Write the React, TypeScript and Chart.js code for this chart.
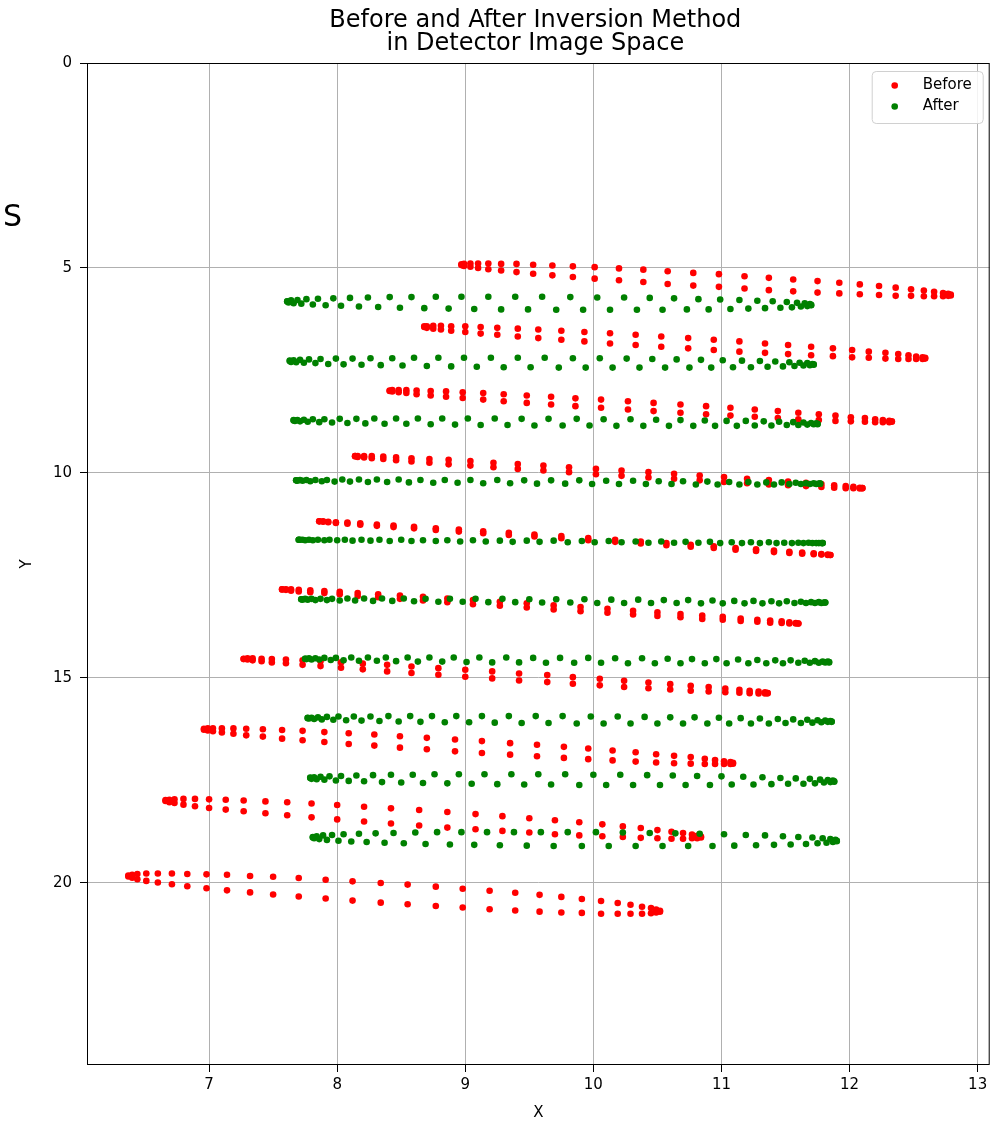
import { useEffect, useRef } from "react";
import { Chart, registerables } from "chart.js";

Chart.register(...registerables);

// ---------- axes ----------
const xTicks = [7, 8, 9, 10, 11, 12, 13];
const yTicks = [0, 5, 10, 15, 20];
const xMin = 6.047;
const xMax = 13.094;
const yMin = 0;
const yMax = 24.44;
const titleLines = ["Before and After Inversion Method", "in Detector Image Space"];
const xLabel = "X";
const yLabel = "Y";
const cornerText = "S";
const seriesNames = ["Before", "After"];
const seriesColors = ["#ff0000", "#008000"];

// ---------- Before (red) rings: x shared by upper and lower sub-rows ----------
const before1X = [12.79,12.77,12.73,12.66,12.58,12.48,12.36,12.23,12.08,11.92,11.75,11.56,11.37,11.18,10.98,10.78,10.58,10.39,10.20,10.01,9.84,9.68,9.53,9.40,9.28,9.18,9.10,9.04,8.99,8.97];
const before1YTop = [5.65,5.63,5.61,5.58,5.55,5.52,5.48,5.44,5.40,5.36,5.32,5.28,5.24,5.20,5.15,5.12,5.08,5.04,5.01,4.98,4.96,4.94,4.92,4.90,4.90,4.89,4.89,4.89,4.90,4.91];
const before1YBottom = [5.67,5.68,5.69,5.69,5.69,5.68,5.68,5.66,5.64,5.62,5.60,5.57,5.54,5.50,5.46,5.43,5.39,5.34,5.30,5.26,5.22,5.18,5.14,5.10,5.06,5.03,5.00,4.97,4.95,4.93];

const before2X = [12.59,12.57,12.52,12.46,12.38,12.28,12.15,12.02,11.87,11.70,11.52,11.34,11.14,10.94,10.74,10.53,10.33,10.13,9.93,9.75,9.57,9.41,9.25,9.12,9.00,8.89,8.81,8.75,8.70,8.68];
const before2YTop = [7.19,7.18,7.16,7.13,7.10,7.07,7.04,7.00,6.96,6.92,6.88,6.84,6.79,6.75,6.71,6.67,6.63,6.59,6.56,6.53,6.50,6.48,6.46,6.44,6.42,6.42,6.41,6.41,6.42,6.42];
const before2YBottom = [7.21,7.22,7.22,7.22,7.22,7.21,7.19,7.18,7.15,7.13,7.10,7.07,7.04,7.00,6.96,6.92,6.88,6.84,6.79,6.75,6.71,6.67,6.63,6.60,6.56,6.53,6.50,6.48,6.46,6.44];

const before3X = [12.33,12.31,12.26,12.20,12.12,12.01,11.89,11.76,11.60,11.44,11.26,11.07,10.88,10.68,10.47,10.27,10.06,9.86,9.67,9.48,9.30,9.14,8.98,8.85,8.73,8.62,8.54,8.48,8.43,8.41];
const before3YTop = [8.74,8.73,8.71,8.69,8.66,8.64,8.60,8.57,8.53,8.49,8.45,8.41,8.37,8.33,8.29,8.25,8.21,8.18,8.14,8.11,8.08,8.05,8.03,8.01,8.00,7.99,7.98,7.98,7.98,7.99];
const before3YBottom = [8.75,8.76,8.76,8.76,8.75,8.74,8.73,8.71,8.69,8.66,8.63,8.60,8.57,8.53,8.49,8.45,8.41,8.37,8.33,8.29,8.25,8.21,8.17,8.14,8.11,8.08,8.05,8.03,8.01,8.00];

const before4X = [12.10,12.08,12.03,11.97,11.88,11.78,11.66,11.52,11.37,11.20,11.02,10.83,10.63,10.43,10.22,10.02,9.81,9.61,9.41,9.22,9.04,8.87,8.72,8.58,8.46,8.36,8.27,8.21,8.16,8.14];
const before4YTop = [10.37,10.36,10.34,10.32,10.30,10.27,10.24,10.21,10.17,10.14,10.10,10.06,10.02,9.98,9.94,9.90,9.86,9.82,9.78,9.75,9.71,9.68,9.66,9.64,9.62,9.60,9.59,9.59,9.59,9.59];
const before4YBottom = [10.37,10.38,10.37,10.37,10.36,10.34,10.32,10.30,10.28,10.25,10.22,10.18,10.14,10.11,10.07,10.03,9.98,9.94,9.90,9.86,9.82,9.79,9.75,9.72,9.69,9.66,9.64,9.62,9.61,9.59];

const before5X = [11.85,11.83,11.78,11.72,11.63,11.53,11.41,11.27,11.11,10.94,10.76,10.57,10.37,10.17,9.96,9.75,9.54,9.34,9.14,8.95,8.77,8.60,8.44,8.31,8.18,8.08,7.99,7.93,7.89,7.86];
const before5YTop = [12.00,11.99,11.98,11.96,11.94,11.92,11.89,11.86,11.83,11.79,11.75,11.71,11.67,11.63,11.59,11.54,11.50,11.46,11.42,11.38,11.35,11.31,11.28,11.26,11.23,11.21,11.20,11.19,11.18,11.18];
const before5YBottom = [12.00,12.00,11.99,11.98,11.97,11.95,11.93,11.90,11.87,11.83,11.80,11.76,11.72,11.68,11.64,11.59,11.55,11.51,11.47,11.43,11.39,11.35,11.32,11.29,11.26,11.24,11.22,11.20,11.19,11.18];

const before6X = [11.60,11.58,11.53,11.47,11.38,11.28,11.15,11.01,10.85,10.68,10.50,10.31,10.11,9.90,9.69,9.48,9.27,9.06,8.86,8.67,8.49,8.32,8.16,8.02,7.90,7.79,7.70,7.64,7.60,7.57];
const before6YTop = [13.67,13.66,13.64,13.62,13.60,13.58,13.55,13.51,13.48,13.44,13.40,13.36,13.31,13.27,13.23,13.18,13.14,13.10,13.06,13.02,12.99,12.96,12.93,12.90,12.88,12.86,12.85,12.84,12.84,12.84];
const before6YBottom = [13.67,13.67,13.67,13.66,13.65,13.63,13.61,13.58,13.56,13.52,13.49,13.45,13.41,13.37,13.33,13.28,13.24,13.20,13.15,13.11,13.07,13.03,13.00,12.96,12.93,12.91,12.89,12.87,12.85,12.84];

const before7X = [11.36,11.34,11.29,11.22,11.14,11.03,10.90,10.76,10.60,10.43,10.24,10.05,9.84,9.64,9.42,9.21,9.00,8.79,8.58,8.39,8.20,8.03,7.87,7.73,7.60,7.49,7.41,7.34,7.30,7.27];
const before7YTop = [15.37,15.35,15.33,15.31,15.29,15.26,15.22,15.19,15.15,15.11,15.07,15.02,14.98,14.93,14.89,14.84,14.80,14.76,14.72,14.68,14.65,14.62,14.59,14.57,14.55,14.54,14.53,14.52,14.52,14.53];
const before7YBottom = [15.37,15.38,15.38,15.37,15.36,15.35,15.33,15.31,15.28,15.25,15.22,15.18,15.14,15.10,15.06,15.01,14.97,14.92,14.88,14.84,14.79,14.75,14.71,14.68,14.64,14.62,14.59,14.57,14.55,14.54];

const before8X = [11.09,11.07,11.02,10.95,10.87,10.76,10.63,10.49,10.33,10.15,9.96,9.77,9.56,9.35,9.13,8.92,8.70,8.49,8.29,8.09,7.90,7.73,7.57,7.42,7.29,7.19,7.10,7.03,6.99,6.96];
const before8YTop = [17.07,17.05,17.03,17.00,16.97,16.93,16.90,16.86,16.81,16.77,16.72,16.68,16.63,16.59,16.54,16.50,16.46,16.42,16.38,16.35,16.32,16.29,16.27,16.25,16.24,16.23,16.23,16.23,16.23,16.24];
const before8YBottom = [17.09,17.10,17.10,17.10,17.10,17.09,17.08,17.06,17.04,17.01,16.98,16.95,16.91,16.87,16.83,16.79,16.74,16.70,16.65,16.61,16.56,16.52,16.48,16.43,16.40,16.36,16.33,16.30,16.28,16.26];

const before9X = [10.84,10.81,10.77,10.70,10.61,10.50,10.37,10.23,10.07,9.89,9.70,9.50,9.29,9.08,8.86,8.64,8.42,8.21,8.00,7.80,7.61,7.44,7.27,7.13,7.00,6.89,6.80,6.73,6.69,6.66];
const before9YTop = [18.87,18.85,18.82,18.78,18.75,18.71,18.66,18.62,18.57,18.52,18.47,18.42,18.37,18.32,18.27,18.22,18.18,18.14,18.10,18.06,18.03,18.01,17.99,17.97,17.96,17.95,17.95,17.96,17.97,17.98];
const before9YBottom = [18.89,18.91,18.91,18.92,18.92,18.91,18.90,18.88,18.86,18.84,18.81,18.77,18.73,18.69,18.65,18.60,18.55,18.50,18.45,18.40,18.35,18.30,18.25,18.21,18.17,18.13,18.09,18.05,18.03,18.00];

const before10X = [10.52,10.49,10.45,10.38,10.29,10.19,10.06,9.91,9.75,9.58,9.39,9.19,8.98,8.77,8.55,8.34,8.12,7.91,7.70,7.50,7.32,7.14,6.98,6.83,6.71,6.60,6.51,6.44,6.40,6.37];
const before10YTop = [20.68,20.65,20.61,20.58,20.53,20.49,20.44,20.39,20.34,20.29,20.24,20.19,20.14,20.09,20.04,20.00,19.96,19.92,19.88,19.85,19.83,19.80,19.79,19.78,19.77,19.77,19.77,19.78,19.80,19.82];
const before10YBottom = [20.70,20.72,20.74,20.75,20.75,20.75,20.75,20.73,20.72,20.70,20.67,20.64,20.60,20.56,20.52,20.48,20.43,20.38,20.33,20.28,20.23,20.18,20.13,20.08,20.03,19.99,19.95,19.91,19.87,19.84];

// ---------- After (green) rings: upper and lower sub-rows interleave ----------
const after1XTop = [11.70,11.69,11.65,11.59,11.51,11.40,11.28,11.14,10.99,10.82,10.63,10.44,10.24,10.03,9.82,9.60,9.39,9.18,8.97,8.77,8.58,8.41,8.24,8.10,7.97,7.85,7.76,7.69,7.64,7.61];
const after1XBottom = [11.70,11.67,11.62,11.55,11.46,11.34,11.21,11.07,10.90,10.73,10.54,10.34,10.13,9.92,9.71,9.49,9.28,9.07,8.87,8.68,8.49,8.32,8.17,8.03,7.91,7.81,7.72,7.66,7.62,7.61];
const after1YTop = [5.90,5.88,5.86,5.85,5.83,5.81,5.80,5.78,5.77,5.76,5.74,5.73,5.72,5.72,5.71,5.70,5.70,5.70,5.70,5.70,5.71,5.71,5.72,5.73,5.74,5.75,5.76,5.78,5.79,5.81];
const after1YBottom = [5.91,5.93,5.94,5.96,5.97,5.98,5.99,6.00,6.01,6.01,6.02,6.02,6.02,6.02,6.02,6.01,6.01,6.00,5.99,5.98,5.97,5.95,5.94,5.92,5.91,5.89,5.87,5.86,5.84,5.82];

const after2XTop = [11.72,11.71,11.67,11.61,11.53,11.42,11.30,11.16,11.01,10.84,10.65,10.46,10.26,10.05,9.84,9.62,9.41,9.20,8.99,8.79,8.60,8.43,8.26,8.12,7.99,7.87,7.78,7.71,7.66,7.63];
const after2XBottom = [11.72,11.69,11.64,11.57,11.48,11.36,11.23,11.09,10.92,10.75,10.56,10.36,10.15,9.94,9.73,9.51,9.30,9.09,8.89,8.70,8.51,8.34,8.19,8.05,7.93,7.83,7.74,7.68,7.64,7.63];
const after2YTop = [7.35,7.34,7.32,7.31,7.30,7.28,7.27,7.26,7.25,7.24,7.23,7.22,7.21,7.20,7.20,7.19,7.19,7.19,7.19,7.19,7.19,7.20,7.20,7.21,7.21,7.22,7.23,7.24,7.25,7.26];
const after2YBottom = [7.36,7.37,7.38,7.39,7.40,7.41,7.42,7.42,7.43,7.43,7.43,7.43,7.43,7.43,7.43,7.42,7.42,7.41,7.40,7.39,7.38,7.37,7.36,7.35,7.34,7.32,7.31,7.30,7.29,7.27];

const after3XTop = [11.75,11.74,11.70,11.64,11.56,11.45,11.33,11.19,11.04,10.87,10.68,10.49,10.29,10.08,9.87,9.65,9.44,9.23,9.02,8.82,8.63,8.46,8.29,8.15,8.02,7.90,7.81,7.74,7.69,7.66];
const after3XBottom = [11.75,11.72,11.67,11.60,11.51,11.39,11.26,11.12,10.95,10.78,10.59,10.39,10.18,9.97,9.76,9.54,9.33,9.12,8.92,8.73,8.54,8.37,8.22,8.08,7.96,7.86,7.77,7.71,7.67,7.66];
const after3YTop = [8.80,8.79,8.78,8.77,8.76,8.75,8.74,8.73,8.73,8.72,8.71,8.70,8.69,8.69,8.68,8.68,8.68,8.67,8.67,8.67,8.67,8.67,8.67,8.68,8.68,8.69,8.69,8.70,8.71,8.71];
const after3YBottom = [8.81,8.81,8.82,8.83,8.83,8.84,8.84,8.85,8.85,8.85,8.85,8.85,8.85,8.84,8.84,8.84,8.83,8.83,8.82,8.81,8.80,8.80,8.79,8.78,8.77,8.76,8.75,8.74,8.73,8.72];

const after4XTop = [11.77,11.76,11.72,11.66,11.58,11.47,11.35,11.21,11.06,10.89,10.70,10.51,10.31,10.10,9.89,9.67,9.46,9.25,9.04,8.84,8.65,8.48,8.31,8.17,8.04,7.92,7.83,7.76,7.71,7.68];
const after4XBottom = [11.77,11.74,11.69,11.62,11.53,11.41,11.28,11.14,10.97,10.80,10.61,10.41,10.20,9.99,9.78,9.56,9.35,9.14,8.94,8.75,8.56,8.39,8.24,8.10,7.98,7.88,7.79,7.73,7.69,7.68];
const after4YTop = [10.26,10.26,10.25,10.25,10.24,10.23,10.23,10.22,10.22,10.21,10.20,10.20,10.19,10.19,10.18,10.18,10.18,10.17,10.17,10.17,10.17,10.16,10.16,10.16,10.16,10.17,10.17,10.17,10.17,10.18];
const after4YBottom = [10.26,10.27,10.27,10.27,10.27,10.28,10.28,10.28,10.28,10.28,10.27,10.27,10.27,10.27,10.26,10.26,10.25,10.25,10.24,10.24,10.23,10.22,10.22,10.21,10.21,10.20,10.20,10.19,10.19,10.18];

const after5XTop = [11.79,11.78,11.74,11.68,11.60,11.49,11.37,11.23,11.08,10.91,10.72,10.53,10.33,10.12,9.91,9.69,9.48,9.27,9.06,8.86,8.67,8.50,8.33,8.19,8.06,7.94,7.85,7.78,7.73,7.70];
const after5XBottom = [11.79,11.76,11.71,11.64,11.55,11.43,11.30,11.16,10.99,10.82,10.63,10.43,10.22,10.01,9.80,9.58,9.37,9.16,8.96,8.77,8.58,8.41,8.26,8.12,8.00,7.90,7.81,7.75,7.71,7.70];
const after5YTop = [11.71,11.71,11.71,11.70,11.70,11.70,11.69,11.69,11.69,11.68,11.68,11.67,11.67,11.66,11.66,11.65,11.65,11.65,11.64,11.64,11.64,11.63,11.63,11.63,11.63,11.63,11.63,11.63,11.63,11.63];
const after5YBottom = [11.71,11.71,11.71,11.71,11.71,11.71,11.71,11.71,11.71,11.70,11.70,11.70,11.69,11.69,11.69,11.68,11.68,11.67,11.67,11.66,11.66,11.66,11.65,11.65,11.64,11.64,11.64,11.64,11.63,11.63];

const after6XTop = [11.81,11.80,11.76,11.70,11.62,11.51,11.39,11.25,11.10,10.93,10.74,10.55,10.35,10.14,9.93,9.71,9.50,9.29,9.08,8.88,8.69,8.52,8.35,8.21,8.08,7.96,7.87,7.80,7.75,7.72];
const after6XBottom = [11.81,11.78,11.73,11.66,11.57,11.45,11.32,11.18,11.01,10.84,10.65,10.45,10.24,10.03,9.82,9.60,9.39,9.18,8.98,8.79,8.60,8.43,8.28,8.14,8.02,7.92,7.83,7.77,7.73,7.72];
const after6YTop = [13.16,13.16,13.15,13.15,13.14,13.13,13.13,13.12,13.12,13.11,13.10,13.10,13.09,13.09,13.08,13.08,13.08,13.07,13.07,13.07,13.07,13.06,13.06,13.06,13.06,13.07,13.07,13.07,13.07,13.08];
const after6YBottom = [13.16,13.17,13.17,13.17,13.17,13.18,13.18,13.18,13.18,13.18,13.17,13.17,13.17,13.17,13.16,13.16,13.15,13.15,13.14,13.14,13.13,13.12,13.12,13.11,13.11,13.10,13.10,13.09,13.09,13.08];

const after7XTop = [11.84,11.83,11.79,11.73,11.65,11.54,11.42,11.28,11.13,10.96,10.77,10.58,10.38,10.17,9.96,9.74,9.53,9.32,9.11,8.91,8.72,8.55,8.38,8.24,8.11,7.99,7.90,7.83,7.78,7.75];
const after7XBottom = [11.84,11.81,11.76,11.69,11.60,11.48,11.35,11.21,11.04,10.87,10.68,10.48,10.27,10.06,9.85,9.63,9.42,9.21,9.01,8.82,8.63,8.46,8.31,8.17,8.05,7.95,7.86,7.80,7.76,7.75];
const after7YTop = [14.61,14.60,14.60,14.59,14.58,14.57,14.57,14.56,14.55,14.54,14.54,14.53,14.52,14.52,14.51,14.51,14.51,14.50,14.50,14.50,14.50,14.50,14.50,14.50,14.50,14.51,14.51,14.52,14.52,14.53];
const after7YBottom = [14.62,14.62,14.63,14.63,14.63,14.64,14.64,14.64,14.64,14.64,14.64,14.64,14.64,14.63,14.63,14.63,14.62,14.62,14.61,14.60,14.60,14.59,14.58,14.58,14.57,14.56,14.55,14.55,14.54,14.53];

const after8XTop = [11.86,11.85,11.81,11.75,11.67,11.56,11.44,11.30,11.15,10.98,10.79,10.60,10.40,10.19,9.98,9.76,9.55,9.34,9.13,8.93,8.74,8.57,8.40,8.26,8.13,8.01,7.92,7.85,7.80,7.77];
const after8XBottom = [11.86,11.83,11.78,11.71,11.62,11.50,11.37,11.23,11.06,10.89,10.70,10.50,10.29,10.08,9.87,9.65,9.44,9.23,9.03,8.84,8.65,8.48,8.33,8.19,8.07,7.97,7.88,7.82,7.78,7.77];
const after8YTop = [16.06,16.05,16.04,16.03,16.02,16.01,16.00,15.99,15.98,15.97,15.96,15.96,15.95,15.94,15.94,15.93,15.93,15.93,15.93,15.93,15.93,15.93,15.93,15.94,15.94,15.94,15.95,15.96,15.97,15.97];
const after8YBottom = [16.07,16.07,16.08,16.09,16.10,16.10,16.11,16.11,16.11,16.11,16.11,16.11,16.11,16.11,16.11,16.10,16.10,16.09,16.08,16.08,16.07,16.06,16.05,16.04,16.03,16.02,16.01,16.00,15.99,15.98];

const after9XTop = [11.88,11.87,11.83,11.77,11.69,11.58,11.46,11.32,11.17,11.00,10.81,10.62,10.42,10.21,10.00,9.78,9.57,9.36,9.15,8.95,8.76,8.59,8.42,8.28,8.15,8.03,7.94,7.87,7.82,7.79];
const after9XBottom = [11.88,11.85,11.80,11.73,11.64,11.52,11.39,11.25,11.08,10.91,10.72,10.52,10.31,10.10,9.89,9.67,9.46,9.25,9.05,8.86,8.67,8.50,8.35,8.21,8.09,7.99,7.90,7.84,7.80,7.79];
const after9YTop = [17.52,17.50,17.49,17.48,17.46,17.45,17.44,17.42,17.41,17.40,17.39,17.38,17.37,17.36,17.36,17.35,17.35,17.35,17.35,17.35,17.35,17.36,17.36,17.37,17.38,17.39,17.40,17.41,17.42,17.43];
const after9YBottom = [17.53,17.54,17.55,17.57,17.58,17.58,17.59,17.60,17.60,17.61,17.61,17.61,17.61,17.61,17.61,17.60,17.60,17.59,17.58,17.57,17.56,17.55,17.54,17.52,17.51,17.50,17.48,17.47,17.46,17.44];

const after10XTop = [11.90,11.89,11.85,11.79,11.71,11.60,11.48,11.34,11.19,11.02,10.83,10.64,10.44,10.23,10.02,9.80,9.59,9.38,9.17,8.97,8.78,8.61,8.44,8.30,8.17,8.05,7.96,7.89,7.84,7.81];
const after10XBottom = [11.90,11.87,11.82,11.75,11.66,11.54,11.41,11.27,11.10,10.93,10.74,10.54,10.33,10.12,9.91,9.69,9.48,9.27,9.07,8.88,8.69,8.52,8.37,8.23,8.11,8.01,7.92,7.86,7.82,7.81];
const after10YTop = [18.97,18.95,18.93,18.91,18.89,18.88,18.86,18.84,18.83,18.81,18.80,18.79,18.78,18.77,18.76,18.76,18.76,18.76,18.76,18.76,18.76,18.77,18.78,18.79,18.80,18.81,18.83,18.84,18.86,18.88];
const after10YBottom = [18.98,19.00,19.02,19.03,19.05,19.06,19.07,19.08,19.09,19.10,19.10,19.10,19.10,19.10,19.10,19.10,19.09,19.08,19.07,19.06,19.05,19.03,19.02,19.00,18.99,18.97,18.95,18.93,18.91,18.89];

// ---------- tables built from the arrays above ----------
const beforeRings: number[][][] = [
  [before1X, before1YTop, before1YBottom],
  [before2X, before2YTop, before2YBottom],
  [before3X, before3YTop, before3YBottom],
  [before4X, before4YTop, before4YBottom],
  [before5X, before5YTop, before5YBottom],
  [before6X, before6YTop, before6YBottom],
  [before7X, before7YTop, before7YBottom],
  [before8X, before8YTop, before8YBottom],
  [before9X, before9YTop, before9YBottom],
  [before10X, before10YTop, before10YBottom],
];
const afterRings: number[][][] = [
  [after1XTop, after1YTop, after1XBottom, after1YBottom],
  [after2XTop, after2YTop, after2XBottom, after2YBottom],
  [after3XTop, after3YTop, after3XBottom, after3YBottom],
  [after4XTop, after4YTop, after4XBottom, after4YBottom],
  [after5XTop, after5YTop, after5XBottom, after5YBottom],
  [after6XTop, after6YTop, after6XBottom, after6YBottom],
  [after7XTop, after7YTop, after7XBottom, after7YBottom],
  [after8XTop, after8YTop, after8XBottom, after8YBottom],
  [after9XTop, after9YTop, after9XBottom, after9YBottom],
  [after10XTop, after10YTop, after10XBottom, after10YBottom],
];

const beforePoints = beforeRings.flatMap(([xs, top, bottom]) =>
  xs.flatMap((x, i) => [
    { x, y: top[i] },
    { x, y: bottom[i] },
  ])
);
const afterPoints = afterRings.flatMap(([xt, yt, xb, yb]) => [
  ...xt.map((x, i) => ({ x, y: yt[i] })),
  ...xb.map((x, i) => ({ x, y: yb[i] })),
]);

const FONT = "'DejaVu Sans', 'Noto Sans', sans-serif";

const decorPlugin = {
  id: "decor",
  afterDatasetsDraw(chart: any) {
    const { ctx, chartArea: a } = chart;
    ctx.save();
    // axes frame (all four spines)
    ctx.strokeStyle = "#000000";
    ctx.lineWidth = 1;
    ctx.strokeRect(a.left + 0.5, a.top + 0.5, a.right - a.left - 1, a.bottom - a.top - 1);

    // legend box
    const lw = 111;
    const lh = 52;
    const lx = a.right - lw - 7;
    const ly = a.top + 8;
    ctx.beginPath();
    if ((ctx as any).roundRect) (ctx as any).roundRect(lx + 0.5, ly + 0.5, lw, lh, 4);
    else ctx.rect(lx + 0.5, ly + 0.5, lw, lh);
    ctx.fillStyle = "rgba(255,255,255,0.85)";
    ctx.fill();
    ctx.strokeStyle = "#d0d0d0";
    ctx.lineWidth = 1;
    ctx.stroke();
    ctx.font = `15px ${FONT}`;
    ctx.textBaseline = "middle";
    ctx.textAlign = "left";
    seriesNames.forEach((name, i) => {
      const cy = ly + 14.5 + i * 21;
      ctx.beginPath();
      ctx.arc(lx + 23, cy, 3.3, 0, Math.PI * 2);
      ctx.fillStyle = seriesColors[i];
      ctx.fill();
      ctx.fillStyle = "#000000";
      ctx.fillText(name, lx + 51, cy);
    });

    // title
    ctx.fillStyle = "#000000";
    ctx.textAlign = "center";
    ctx.textBaseline = "alphabetic";
    ctx.font = `24px ${FONT}`;
    const cx = (a.left + a.right) / 2 - 3;
    ctx.fillText(titleLines[0], cx, 27);
    ctx.fillText(titleLines[1], cx, 50);

    // stray corner letter
    ctx.textAlign = "left";
    ctx.font = `30px ${FONT}`;
    ctx.fillText(cornerText, 3, 226);
    ctx.restore();
  },
};

export default function App() {
  const canvasRef = useRef<HTMLCanvasElement | null>(null);

  useEffect(() => {
    const canvas = canvasRef.current;
    if (!canvas) return;
    Chart.defaults.font.family = FONT;
    const chart = new Chart(canvas, {
      type: "scatter",
      data: {
        datasets: [
          {
            label: seriesNames[0],
            data: beforePoints,
            backgroundColor: seriesColors[0],
            borderWidth: 0,
            pointRadius: 3.3,
            pointHoverRadius: 3.3,
            order: 2,
          },
          {
            label: seriesNames[1],
            data: afterPoints,
            backgroundColor: seriesColors[1],
            borderWidth: 0,
            pointRadius: 3.3,
            pointHoverRadius: 3.3,
            order: 1,
          },
        ],
      },
      options: {
        animation: false,
        responsive: false,
        devicePixelRatio: 1,
        events: [],
        layout: { padding: { left: 0, right: 3, top: 63, bottom: 0 } },
        plugins: {
          legend: { display: false },
          tooltip: { enabled: false },
          title: { display: false },
        },
        scales: {
          x: {
            type: "linear",
            position: "bottom",
            min: xMin,
            max: xMax,
            afterBuildTicks: (scale: any) => {
              scale.ticks = xTicks.map((v) => ({ value: v }));
            },
            afterFit: (scale: any) => {
              scale.height = 57;
            },
            ticks: {
              color: "#000000",
              font: { size: 15, family: FONT },
              padding: 4,
              maxRotation: 0,
              autoSkip: false,
              callback: (v: any) => String(v),
            },
            grid: {
              color: "#b0b0b0",
              lineWidth: 1,
              tickColor: "#000000",
              tickLength: 7,
              tickWidth: 1,
            },
            border: { display: false },
            title: {
              display: true,
              text: xLabel,
              color: "#000000",
              font: { size: 15, family: FONT },
              padding: { top: 0, bottom: 0 },
            },
          },
          y: {
            type: "linear",
            reverse: true,
            min: yMin,
            max: yMax,
            afterBuildTicks: (scale: any) => {
              scale.ticks = yTicks.map((v) => ({ value: v }));
            },
            afterFit: (scale: any) => {
              scale.width = 87;
            },
            ticks: {
              color: "#000000",
              font: { size: 15, family: FONT },
              padding: 8,
              autoSkip: false,
              callback: (v: any) => String(v),
            },
            grid: {
              color: "#b0b0b0",
              lineWidth: 1,
              tickColor: "#000000",
              tickLength: 7,
              tickWidth: 1,
            },
            border: { display: false },
            title: {
              display: true,
              text: yLabel,
              color: "#000000",
              font: { size: 15, family: FONT },
              padding: { top: 18, bottom: 0 },
            },
          },
        },
      },
      plugins: [decorPlugin],
    } as any);
    return () => chart.destroy();
  }, []);

  return (
    <div style={{ position: "absolute", left: 0, top: 0, width: 993, height: 1122, background: "#ffffff" }}>
      <canvas ref={canvasRef} width={993} height={1122} style={{ display: "block" }} />
    </div>
  );
}
